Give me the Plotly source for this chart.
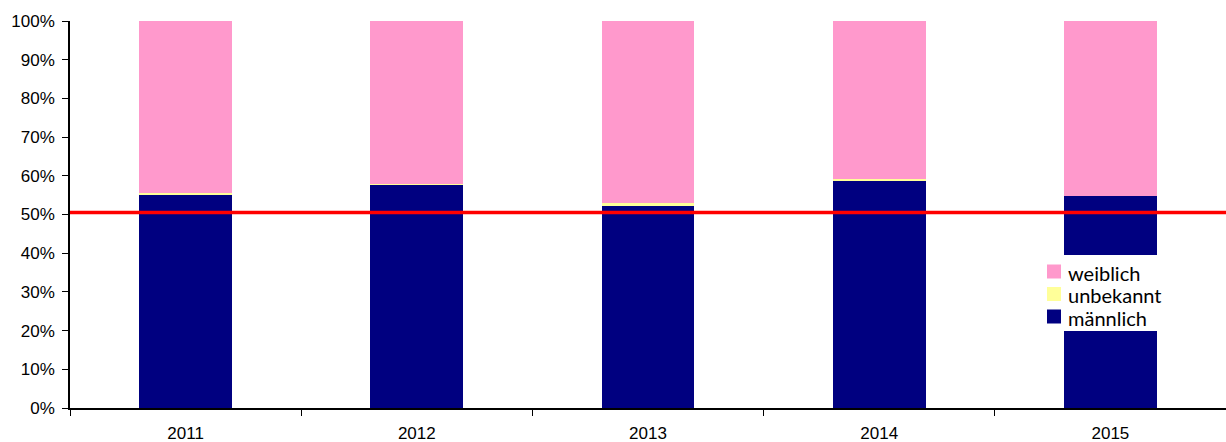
import plotly.graph_objects as go

# Gender distribution per year (percent)
years = ["2011", "2012", "2013", "2014", "2015"]
maennlich = [55.2, 57.8, 52.1, 58.9, 54.7]
unbekannt = [0.4, 0.1, 0.8, 0.2, 0.0]
weiblich = [round(100 - m - u, 1) for m, u in zip(maennlich, unbekannt)]
reference_line = 50.5

y_ticks = list(range(0, 101, 10))
y_tick_labels = [f"{v}%" for v in y_ticks]

series = [
    ("männlich", maennlich, "#000080"),
    ("unbekannt", unbekannt, "#FFFF99"),
    ("weiblich", weiblich, "#FF99CC"),
]

W, H = 1226, 442
M_L, M_R, M_T, M_B = 70, 0, 21, 34
plot_w = W - M_L - M_R
plot_h = H - M_T - M_B


def px_x(x):
    return (x - M_L) / plot_w


def px_y(y):
    return (H - M_B - y) / plot_h


fig = go.Figure()
for name, vals, color in series:
    fig.add_trace(go.Bar(x=years, y=vals, name=name, marker_color=color,
                         marker_line_width=0, showlegend=False))

fig.add_shape(type="line", xref="paper", x0=0, x1=1, yref="y",
              y0=reference_line, y1=reference_line,
              line=dict(color="#FF0000", width=3.5), layer="above")

# Legend box drawn over the last bar, items listed top-down
fig.add_shape(type="rect", xref="paper", yref="paper",
              x0=px_x(1040), x1=px_x(1178), y0=px_y(331), y1=px_y(255),
              fillcolor="white", line_width=0, layer="above")
item_y = [271.5, 294, 316.5]
for (name, _, color), cy in zip(reversed(series), item_y):
    fig.add_shape(type="rect", xref="paper", yref="paper",
                  x0=px_x(1047), x1=px_x(1061), y0=px_y(cy + 7), y1=px_y(cy - 7),
                  fillcolor=color, line_width=0, layer="above")
    fig.add_annotation(xref="paper", yref="paper", x=px_x(1066), y=px_y(cy + 1),
                       text=name, showarrow=False, xanchor="left", yanchor="middle",
                       font=dict(family="Lato, Open Sans, sans-serif", size=20,
                                 color="#000000"))

fig.update_layout(
    width=W, height=H,
    margin=dict(l=M_L, r=M_R, t=M_T, b=M_B, pad=0),
    barmode="stack",
    bargap=0.598,
    plot_bgcolor="white",
    paper_bgcolor="white",
    font=dict(family="Liberation Sans, Arial, sans-serif", size=17, color="#000000"),
    showlegend=False,
    xaxis=dict(
        type="category",
        showline=True, linecolor="#000000", linewidth=1.5,
        ticks="outside", tickson="boundaries", ticklen=6, tickcolor="#000000",
        tickfont=dict(size=17),
        ticklabelstandoff=9,
        showgrid=False, zeroline=False,
    ),
    yaxis=dict(
        range=[0, 100],
        tickmode="array",
        tickvals=y_ticks,
        ticktext=y_tick_labels,
        showline=True, linecolor="#000000", linewidth=1.5,
        ticks="outside", ticklen=6, tickcolor="#000000",
        tickfont=dict(size=17),
        ticklabelstandoff=4,
        showgrid=False, zeroline=False,
    ),
)

fig.write_html("out.html")
